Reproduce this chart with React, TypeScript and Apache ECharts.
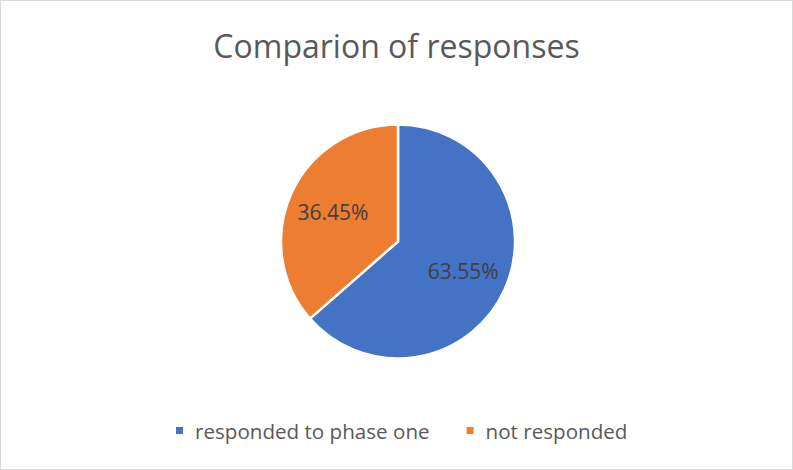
import React, { useEffect, useRef } from "react";
import * as echarts from "echarts";

const categories = ["responded to phase one", "not responded"];
const values = [63.55, 36.45];
const colors = ["#4472C4", "#ED7D31"];
const titleText = "Comparion of responses";

export default function App() {
  const ref = useRef<HTMLDivElement>(null);
  useEffect(() => {
    document.body.style.margin = "0";
    const chart = echarts.init(ref.current!, null, { renderer: "svg" });
    const data = categories.map((name, i) => ({ name, value: values[i], itemStyle: { color: colors[i] } }));
    chart.setOption({
      animation: false,
      backgroundColor: "#ffffff",
      title: {
        text: titleText,
        left: "center",
        top: 23,
        textStyle: { fontFamily: "Open Sans", fontSize: 32, fontWeight: "normal", color: "#595959" },
      },
      legend: {
        data: categories,
        bottom: 23,
        left: 168,
        icon: "rect",
        itemWidth: 9,
        itemHeight: 9,
        itemGap: 35,
        textStyle: { fontFamily: "Open Sans", fontSize: 20.6, color: "#595959", padding: [0, 0, 0, 6] },
      },
      series: [
        {
          type: "pie",
          center: [397, 240.5],
          radius: [0, 117],
          startAngle: 90,
          clockwise: true,
          data,
          label: { show: false },
          labelLine: { show: false },
          itemStyle: { borderColor: "#ffffff", borderWidth: 2.5 },
          emphasis: { disabled: true },
        },
        {
          type: "pie",
          center: [397, 240.5],
          radius: [20, 117],
          startAngle: 90,
          clockwise: true,
          silent: true,
          data: categories.map((name, i) => ({ name, value: values[i], itemStyle: { color: "rgba(0,0,0,0)" } })),
          itemStyle: { color: "rgba(0,0,0,0)", borderWidth: 0 },
          label: {
            show: true,
            position: "inside",
            formatter: (p: any) => p.value.toFixed(2) + "%",
            fontFamily: "Open Sans",
            fontSize: 21,
            color: "#404040",
          },
          labelLine: { show: false },
          emphasis: { disabled: true },
        },
      ],
    });
    return () => chart.dispose();
  }, []);
  return (
    <div
      ref={ref}
      style={{ width: 793, height: 470, boxSizing: "border-box", border: "1px solid #d9d9d9" }}
    />
  );
}
